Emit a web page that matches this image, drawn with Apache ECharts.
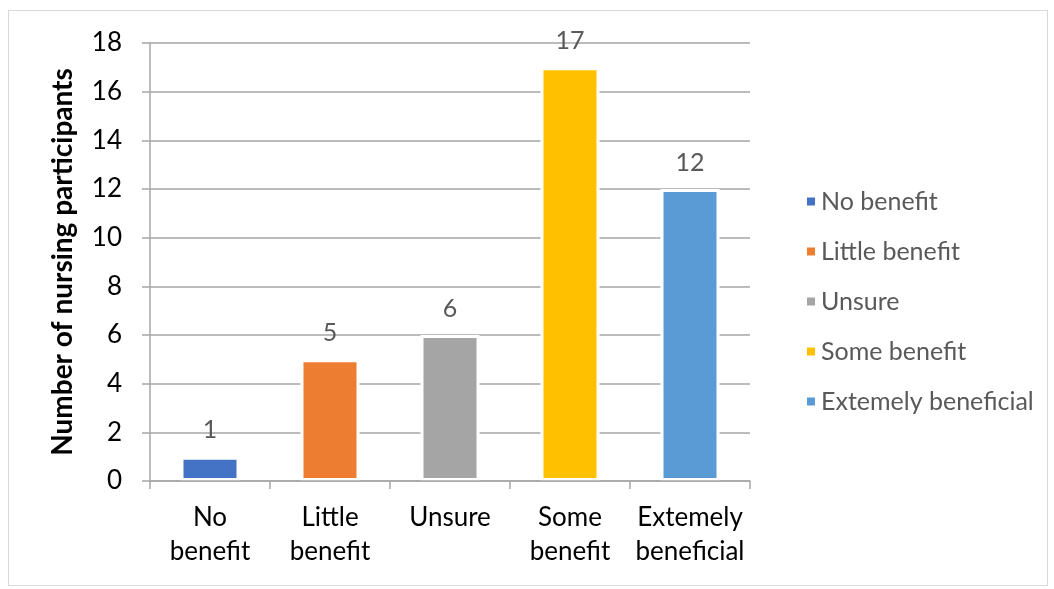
<!DOCTYPE html>
<html>
<head>
<meta charset="utf-8">
<script src="https://cdn.jsdelivr.net/npm/echarts@6/dist/echarts.min.js"></script>
<style>
  html, body { margin: 0; padding: 0; background: #fff; }
  #frame { position: absolute; left: 8px; top: 10px; width: 1038px; height: 574px; border: 1px solid #d9d9d9; }
  #chart { position: absolute; left: 0; top: 0; width: 1054px; height: 589px; }
</style>
</head>
<body>
<div id="frame"></div>
<div id="chart"></div>
<script>
const categories = ['No\nbenefit', 'Little\nbenefit', 'Unsure', 'Some\nbenefit', 'Extemely\nbeneficial']
const legendNames = ['No benefit', 'Little benefit', 'Unsure', 'Some benefit', 'Extemely beneficial']
const values = [1, 5, 6, 17, 12]
const colors = ['#4472c4', '#ed7d31', '#a5a5a5', '#ffc000', '#5b9bd5']

const chart = echarts.init(document.getElementById('chart'))
const font = 'Lato, "Open Sans", sans-serif'

// one series per category so the legend lists each one
const series = legendNames.map((name, i) => ({
  name,
  type: 'bar',
  stack: 'all',
  barWidth: 59,
  data: values.map((v, j) => (j === i ? v : '-')),
  itemStyle: { color: colors[i], borderColor: '#fff', borderWidth: 3 },
  label: {
    show: true,
    position: 'top',
    distance: 14,
    color: '#595959',
    fontSize: 25,
    fontFamily: font
  }
}))

chart.setOption({
  animation: false,
  textStyle: { fontFamily: font },
  grid: { left: 150, right: 304, top: 43, bottom: 108 },
  legend: {
    orient: 'vertical',
    left: 800,
    top: 184,
    itemWidth: 10,
    itemHeight: 10,
    itemGap: 25,
    icon: 'rect',
    textStyle: { color: '#595959', fontSize: 25, fontFamily: font }
  },
  xAxis: {
    type: 'category',
    data: categories,
    z: 3,
    axisLine: { lineStyle: { color: '#a6a6a6', width: 1.5 } },
    axisTick: { show: true, length: 8, lineStyle: { color: '#a6a6a6', width: 1.5 } },
    axisLabel: { color: '#000', fontSize: 26, lineHeight: 34, margin: 20, interval: 0, fontFamily: font }
  },
  yAxis: {
    type: 'value',
    min: 0,
    max: 18,
    interval: 2,
    name: 'Number of nursing participants',
    nameLocation: 'middle',
    nameGap: 73,
    nameTextStyle: { color: '#000', fontSize: 28, fontWeight: 'bold', fontFamily: font },
    axisLine: { show: true, lineStyle: { color: '#a6a6a6', width: 1.5 } },
    axisTick: { show: true, length: 8, lineStyle: { color: '#a6a6a6', width: 1.5 } },
    axisLabel: { color: '#000', fontSize: 26, margin: 28, fontFamily: font },
    splitLine: { lineStyle: { color: '#a6a6a6', width: 1.5 } }
  },
  series
})
</script>
</body>
</html>
